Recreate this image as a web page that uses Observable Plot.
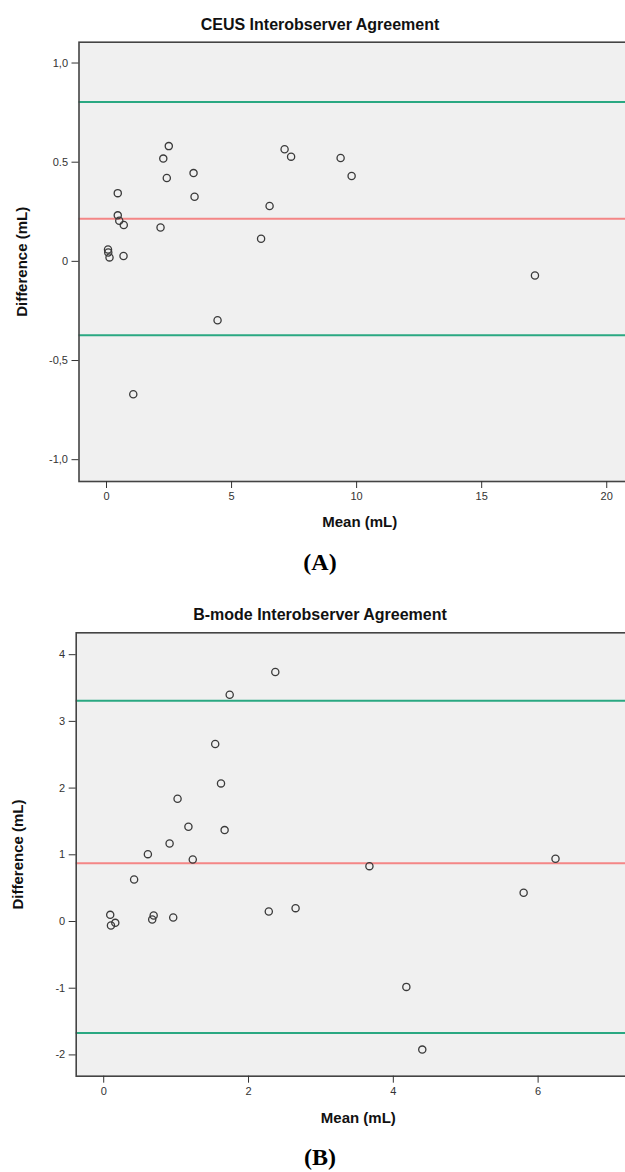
<!DOCTYPE html>
<html><head><meta charset="utf-8">
<script src="https://cdn.jsdelivr.net/npm/d3@7"></script>
<script src="https://cdn.jsdelivr.net/npm/@observablehq/plot@0.6"></script>
<style>
body{margin:0;background:#fff;font-family:"Liberation Sans",Arial,sans-serif;}
.panel{position:relative;width:625px;overflow:hidden;}
.title{position:absolute;left:0;width:640px;text-align:center;font-weight:bold;font-size:16px;line-height:20px;color:#111;}
.cap{position:absolute;left:0;width:640px;text-align:center;font-family:"Liberation Serif","Times New Roman",serif;font-weight:bold;font-size:24px;line-height:28px;color:#000;}
.plot{position:absolute;left:0;top:0;max-width:none !important;}
</style></head><body>
<div id="A" class="panel" style="height:590px"></div>
<div id="B" class="panel" style="height:582px"></div>
<script>
// ---- Panel A: CEUS ----
const titleA = "CEUS Interobserver Agreement";
const captionA = "(A)";
const meanA = [0.06, 0.07, 0.12, 0.45, 0.45, 0.51, 0.69, 0.68, 2.16, 2.27, 2.49, 2.41, 3.48, 3.52, 4.44, 6.18, 6.52, 7.12, 7.38, 9.36, 9.80, 17.13, 1.07];
const diffA = [0.060, 0.045, 0.020, 0.344, 0.232, 0.205, 0.183, 0.027, 0.171, 0.518, 0.581, 0.420, 0.445, 0.326, -0.297, 0.114, 0.279, 0.565, 0.528, 0.521, 0.430, -0.071, -0.670];
const biasA = 0.215;
const loaA = [0.803, -0.373];
const xTicksA = [0, 5, 10, 15, 20];
const yTicksA = [-1, -0.5, 0, 0.5, 1];
const yTickLabelsA = ["-1,0", "-0,5", "0", "0.5", "1,0"];

// ---- Panel B: B-mode ----
const titleB = "B-mode Interobserver Agreement";
const captionB = "(B)";
const meanB = [1.54, 1.62, 1.02, 1.17, 1.67, 0.91, 0.61, 1.23, 0.42, 0.09, 0.10, 0.16, 0.67, 0.69, 0.96, 2.28, 2.65, 1.74, 2.37, 3.67, 5.80, 6.24, 4.18, 4.40];
const diffB = [2.66, 2.07, 1.84, 1.42, 1.37, 1.17, 1.01, 0.93, 0.63, 0.10, -0.06, -0.02, 0.03, 0.09, 0.06, 0.15, 0.20, 3.40, 3.74, 0.83, 0.43, 0.94, -0.98, -1.92];
const biasB = 0.875;
const loaB = [3.31, -1.67];
const xTicksB = [0, 2, 4, 6];
const yTicksB = [-2, -1, 0, 1, 2, 3, 4];
const yTickLabelsB = ["-2", "-1", "0", "1", "2", "3", "4"];

const green = "#2aa882";
const red = "#f48686";
const dotStroke = "#3a3a3a";

function panel(el, cfg) {
  const data = cfg.mean.map((m, i) => ({mean: m, diff: cfg.diff[i]}));
  const fmt = d => cfg.yLabels[cfg.yTicks.indexOf(d)];
  const chart = Plot.plot({
    width: 640, height: cfg.height,
    marginTop: cfg.mt, marginBottom: cfg.mb, marginLeft: cfg.ml, marginRight: 0,
    style: {fontFamily: "'Liberation Sans', Arial, sans-serif", fontSize: "11px", color: "#333", background: "transparent", overflow: "visible", maxWidth: "none"},
    x: {domain: cfg.xDomain},
    y: {domain: cfg.yDomain},
    marks: [
      Plot.frame({fill: "#f0f0f0"}),
      Plot.ruleY(cfg.loa, {stroke: green, strokeWidth: 2}),
      Plot.ruleY([cfg.bias], {stroke: red, strokeWidth: 2}),
      Plot.dot(data, {x: "mean", y: "diff", r: 3.6, stroke: dotStroke, strokeWidth: 1.3, fill: "none"}),
      Plot.frame({stroke: "#444", strokeWidth: 1.6}),
      Plot.axisX({ticks: cfg.xTicks, tickFormat: d => String(d), tickSize: 7, tickPadding: 4, label: "Mean (mL)", labelAnchor: "center", labelArrow: "none", labelOffset: cfg.xlo}),
      Plot.axisY({ticks: cfg.yTicks, tickFormat: fmt, tickSize: 7, tickPadding: 4, label: "Difference (mL)", labelAnchor: "center", labelArrow: "none", labelOffset: cfg.ylo})
    ]
  });
  chart.classList.add("plot");
  chart.style.maxWidth = "none";
  chart.style.width = "640px";
  chart.style.height = cfg.height + "px";
  d3.select(chart).selectAll('g[aria-label="x-axis label"] text, g[aria-label="y-axis label"] text')
    .attr("font-weight", "bold").attr("font-size", "15px").attr("fill", "#111");
  d3.select(chart).selectAll('g[aria-label="x-axis tick"], g[aria-label="y-axis tick"]').attr("stroke", "#333");
  el.appendChild(chart);
  const t = document.createElement("div");
  t.className = "title"; t.style.top = cfg.titleTop + "px"; t.textContent = cfg.title;
  el.appendChild(t);
  const c = document.createElement("div");
  c.className = "cap"; c.style.top = cfg.capTop + "px"; c.textContent = cfg.caption;
  el.appendChild(c);
}

panel(document.getElementById("A"), {
  mean: meanA, diff: diffA, bias: biasA, loa: loaA,
  xTicks: xTicksA, yTicks: yTicksA, yLabels: yTickLabelsA,
  xDomain: [-1.1, 21.35], yDomain: [-1.11, 1.105],
  height: 540, mt: 41.7, mb: 59, ml: 78.5, xlo: 45.5, ylo: 63,
  title: titleA, caption: captionA, titleTop: 15, capTop: 548
});
panel(document.getElementById("B"), {
  mean: meanB, diff: diffB, bias: biasB, loa: loaB,
  xTicks: xTicksB, yTicks: yTicksB, yLabels: yTickLabelsB,
  xDomain: [-0.38, 7.414], yDomain: [-2.319, 4.328],
  height: 540, mt: 42.3, mb: 54.3, ml: 75.7, xlo: 46.5, ylo: 64,
  title: titleB, caption: captionB, titleTop: 15, capTop: 553
});
</script>
</body></html>
